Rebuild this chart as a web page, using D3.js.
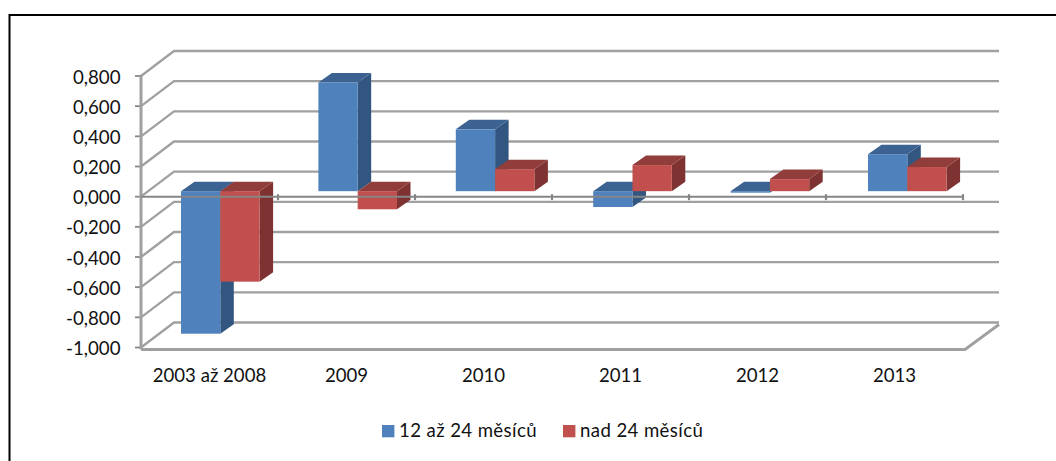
<!DOCTYPE html>
<html><head><meta charset="utf-8">
<script src="https://cdn.jsdelivr.net/npm/d3@7"></script>
<style>html,body{margin:0;padding:0;background:#fff}svg{display:block}text{font-family:Lato,"Open Sans",sans-serif;fill:#111}</style>
</head><body><svg id="c" width="1056" height="461"></svg>
<script>
const categories = ["2003 až 2008","2009","2010","2011","2012","2013"];
const seriesNames = ["12 až 24 měsíců","nad 24 měsíců"];
const series1 = [-0.945,0.72,0.41,-0.105,-0.01,0.245];
const series2 = [-0.60,-0.12,0.146,0.173,0.08,0.16];
const yTicks = [0.8,0.6,0.4,0.2,0,-0.2,-0.4,-0.6,-0.8,-1];

const svg=d3.select("#c");
const defs=svg.append("defs");
defs.append("filter").attr("id","soft").attr("x","-5%").attr("y","-5%").attr("width","110%").attr("height","110%")
  .append("feGaussianBlur").attr("stdDeviation",0.5);
const y=d3.scaleLinear().domain([-1,0.8]).range([347.5,76]);
const x=d3.scaleBand().domain(categories).range([141,963]).paddingInner(0).paddingOuter(0);
const wallDx=33, wallDy=-25;
const barPlaneDx=40, barPlaneDy=-5.5, barDrift=0.4;
const depthDx=13.5, depthDy=-9.5;
const barW=39.3;
const colors=[{f:"#4f81bd",t:"#3b6290",s:"#335780"},{f:"#c0504d",t:"#913c3a",s:"#7f3331"}];
const grid="#a0a0a0", axisCol="#868686";
const num=v=>d3.format(".3f")(v).replace("−","-").replace(".",",");

// frame: left and top edges only, the right and bottom fall outside the crop
svg.append("path").attr("fill","none").attr("stroke","#000").attr("stroke-width",2)
  .attr("d","M9.5,461L9.5,15L1056,15");

const g=svg.append("g").attr("filter","url(#soft)");
const xL=x.range()[0], xR=x.range()[1];
yTicks.forEach(t=>{
  const yy=y(t);
  g.append("path").attr("fill","none").attr("stroke",grid).attr("stroke-width",2.3)
    .attr("d",`M${xL},${yy}L${xL+wallDx},${yy+wallDy}L${xR+wallDx+3},${yy+wallDy}`);
  g.append("line").attr("x1",xL-6).attr("x2",xL).attr("y1",yy).attr("y2",yy).attr("stroke",axisCol).attr("stroke-width",1.8);
});
const fy=y(-1)+2;
g.append("path").attr("fill","none").attr("stroke",grid).attr("stroke-width",2.8)
  .attr("d",`M${xL},${fy}L${xR+2},${fy}L${xR+wallDx+3},${y(-1)+wallDy+2}`);
g.append("line").attr("x1",xL).attr("x2",xL).attr("y1",y(0.8)).attr("y2",fy).attr("stroke",grid).attr("stroke-width",3);

const base=y(0)+barPlaneDy;
const sc=v=>y(v)-y(0);
categories.forEach((c,i)=>{
  [series1[i],series2[i]].forEach((v,k)=>{
    const x0=x(c)+barPlaneDx+i*barDrift+k*barW, x1=x0+barW;
    const top=base+Math.min(0,sc(v)), bot=base+Math.max(0,sc(v));
    const col=colors[k], b=g.append("g");
    b.append("path").attr("fill",col.s).attr("d",`M${x1},${top}L${x1+depthDx},${top+depthDy}L${x1+depthDx},${bot+depthDy}L${x1},${bot}Z`);
    b.append("path").attr("fill",col.t).attr("d",`M${x0},${top}L${x0+depthDx},${top+depthDy}L${x1+depthDx},${top+depthDy}L${x1},${top}Z`);
    b.append("rect").attr("x",x0).attr("y",top).attr("width",barW).attr("height",Math.max(1.5,bot-top)).attr("fill",col.f);
  });
});
const zy=y(0);
g.append("line").attr("x1",xL).attr("x2",xR).attr("y1",zy).attr("y2",zy).attr("stroke",axisCol).attr("stroke-width",2);
categories.forEach(c=>{
  const tx=x(c)+x.bandwidth();
  g.append("line").attr("x1",tx).attr("x2",tx).attr("y1",zy-2.5).attr("y2",zy+3.5).attr("stroke",axisCol).attr("stroke-width",2.2);
});

const tg=svg.append("g");
tg.selectAll("text.y").data(yTicks).join("text").attr("class","y")
  .attr("x",120.5).attr("y",d=>y(d)+7.5).attr("text-anchor","end").attr("font-size",18.7).text(num);
tg.selectAll("text.x").data(categories).join("text").attr("class","x")
  .attr("x",d=>x(d)+x.bandwidth()/2).attr("y",382).attr("text-anchor","middle").attr("font-size",18.6).text(d=>d);
const legendX=[382,563];
seriesNames.forEach((n,k)=>{
  tg.append("rect").attr("x",legendX[k]).attr("y",425).attr("width",12.4).attr("height",12.3).attr("fill",colors[k].f);
  tg.append("text").attr("x",legendX[k]+17).attr("y",437).attr("font-size",18.6).attr("letter-spacing",0.4).text(n);
});
</script></body></html>
